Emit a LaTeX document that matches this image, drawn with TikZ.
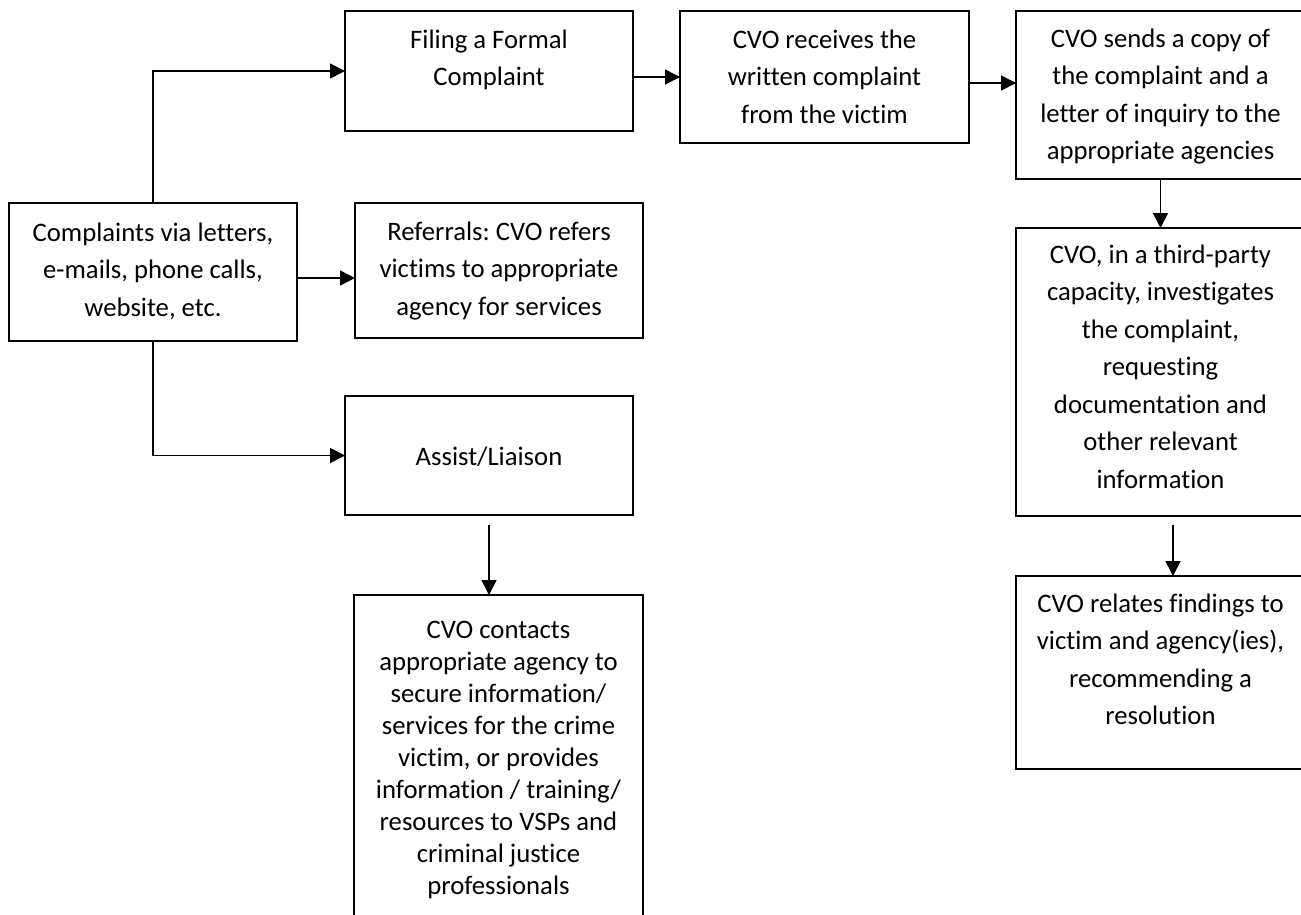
\documentclass[tikz,border=0pt]{standalone}
\usepackage{fontspec}
\setmainfont{Carlito}[RawFeature={-liga}]
\frenchspacing
\usetikzlibrary{arrows.meta,calc}
\newcommand{\boxtext}[4]{\parbox[c][#2pt][t]{#1pt}{\centering\rule{0pt}{#3pt}#4\par}}
\tikzset{
  box/.style={draw, line width=2pt, inner sep=0pt, outer sep=0pt, anchor=north west,
    font=\fontsize{26.7}{37.5}\selectfont},
  conn/.style={line width=1.6pt, -{Triangle[length=15pt,width=15pt]}}
}
\begin{document}
\begin{tikzpicture}[x=1pt,y=-1pt]
\useasboundingbox (0,0) rectangle (1301,914);
\clip (0,0) rectangle (1301,914);
\node[box] (comp) at (9,203) {\boxtext{288}{138}{38}{Complaints via letters,\\e-mails, phone calls,\\website, etc.}};
\node[box] (filing) at (345,11) {\boxtext{288}{120}{37}{Filing a Formal\\Complaint}};
\node[box] (recv) at (680,11) {\boxtext{289}{132}{37}{CVO receives the\\written complaint\\from the victim}};
\node[box] (sends) at (1016,11) {\boxtext{289}{168}{36}{CVO sends a copy of\\the complaint and a\\letter of inquiry to the\\appropriate agencies}};
\node[box] (refer) at (355,203) {\boxtext{288}{135}{37}{Referrals: CVO refers\\victims to appropriate\\agency for services}};
\node[box] (assist) at (345,396) {\boxtext{288}{119}{69}{Assist/Liaison}};
\node[box] (invest) at (1016,228) {\boxtext{289}{288}{35}{CVO, in a third-party\\capacity, investigates\\the complaint,\\requesting\\documentation and\\other relevant\\information}};
\node[box] (relates) at (1016,576) {\boxtext{289}{193}{36}{CVO relates findings to\\victim and agency(ies),\\recommending a\\resolution}};
\node[box, font=\fontsize{26.7}{32}\selectfont] (contacts) at (354,595) {\boxtext{289}{380}{43}{CVO contacts\\appropriate agency to\\secure information/\\services for the crime\\victim, or provides\\information / training/\\resources to VSPs and\\criminal justice\\professionals}};
\draw[conn] (comp.north) |- (filing.west);
\draw[conn] (filing.east |- recv.west) -- (recv.west);
\draw[conn] ([yshift=-6pt]recv.east) -- ([yshift=-6pt]recv.east -| sends.west);
\draw[conn] (sends.south) -- (invest.north);
\draw[conn] ([xshift=12.5pt,yshift=-9pt]invest.south) -- ([xshift=12.5pt]relates.north);
\draw[conn] ([yshift=-6pt]comp.east) -- ([yshift=-6pt]comp.east -| refer.west);
\draw[conn] (comp.south) |- (assist.west);
\draw[conn] ([yshift=-10pt]assist.south) -- (assist.south |- contacts.north);
\end{tikzpicture}
\end{document}
